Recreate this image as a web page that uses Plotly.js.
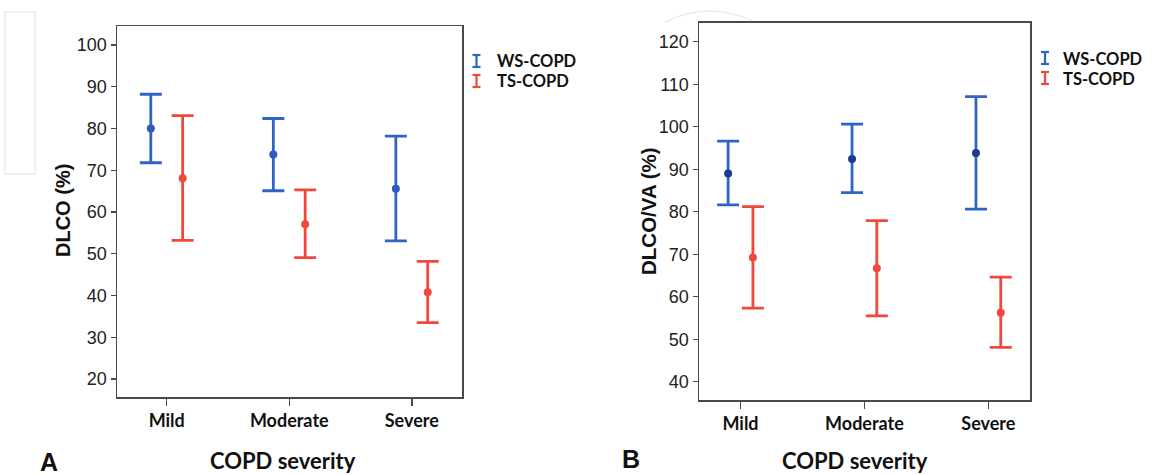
<!DOCTYPE html>
<html>
<head>
<meta charset="utf-8">
<script src="https://cdn.plot.ly/plotly-3.0.1.min.js"></script>
<style>
html,body{margin:0;padding:0;background:#fff;}
#chart{width:1159px;height:475px;}
</style>
</head>
<body>
<div id="chart"></div>
<script>
// ---- data ----
const categories = ["Mild", "Moderate", "Severe"];
const seriesNames = ["WS-COPD", "TS-COPD"];

// Panel A: DLCO (%)
const dlcoWsMean  = [80.0, 73.8, 65.6];
const dlcoWsUpper = [88.2, 82.4, 78.2];
const dlcoWsLower = [71.8, 65.1, 53.1];
const dlcoTsMean  = [68.1, 57.1, 40.8];
const dlcoTsUpper = [83.1, 65.3, 48.2];
const dlcoTsLower = [53.2, 49.1, 33.5];

// Panel B: DLCO/VA (%)
const dlcovaWsMean  = [89.0, 92.4, 93.8];
const dlcovaWsUpper = [96.6, 100.6, 107.1];
const dlcovaWsLower = [81.6, 84.5, 80.6];
const dlcovaTsMean  = [69.2, 66.7, 56.2];
const dlcovaTsUpper = [81.2, 77.9, 64.6];
const dlcovaTsLower = [57.3, 55.5, 48.1];

const yTicksA = [20, 30, 40, 50, 60, 70, 80, 90, 100];
const yTicksB = [40, 50, 60, 70, 80, 90, 100, 110, 120];

// ---- styling ----
const W = 1159, H = 475;
const px = x => x / W;
const py = y => 1 - y / H;
const BLUE = "#3063c6", BLUE_DOT_A = "#2d5bbd", BLUE_DOT_B = "#1c3c8e", RED = "#f0493b";
const AXC = "#4a4a4a";

function trace(name, mean, upper, lower, offset, color, dotColor, xa, ya) {
  return {
    type: "scatter", mode: "markers", name: name, showlegend: false,
    x: categories.map((c, i) => i + offset),
    y: mean,
    xaxis: xa, yaxis: ya,
    marker: {color: dotColor, size: 8},
    error_y: {
      type: "data", symmetric: false,
      array: upper.map((u, i) => u - mean[i]),
      arrayminus: lower.map((l, i) => mean[i] - l),
      color: color, thickness: 2.8, width: 11
    },
    hoverinfo: "x+y"
  };
}

const data = [
  trace(seriesNames[0], dlcoWsMean, dlcoWsUpper, dlcoWsLower, -0.13, BLUE, BLUE_DOT_A, "x", "y"),
  trace(seriesNames[1], dlcoTsMean, dlcoTsUpper, dlcoTsLower, 0.13, RED, RED, "x", "y"),
  trace(seriesNames[0], dlcovaWsMean, dlcovaWsUpper, dlcovaWsLower, -0.1, BLUE, BLUE_DOT_B, "x2", "y2"),
  trace(seriesNames[1], dlcovaTsMean, dlcovaTsUpper, dlcovaTsLower, 0.1, RED, RED, "x2", "y2")
];

function xAxis(domain, range, anchor) {
  return {
    domain: domain, range: range, anchor: anchor,
    tickvals: categories.map((c, i) => i), ticktext: categories,
    ticks: "outside", ticklen: 7, tickwidth: 1.5, tickcolor: AXC,
    tickfont: {family: "Lato, sans-serif", size: 18, weight: "bold", color: "#111"},
    showline: true, linecolor: AXC, linewidth: 1.5, mirror: true,
    showgrid: false, zeroline: false, fixedrange: true
  };
}
function yAxis(domain, range, ticks, anchor) {
  return {
    domain: domain, range: range, anchor: anchor,
    tickvals: ticks, ticks: "outside", ticklen: 5, tickwidth: 1.2, tickcolor: AXC,
    tickfont: {family: "Liberation Sans, Arial, sans-serif", size: 18, color: "#222"},
    showline: true, linecolor: AXC, linewidth: 1.5, mirror: true,
    showgrid: false, zeroline: false, fixedrange: true
  };
}

const annFont = (size, fam) => ({family: fam || "Lato, sans-serif", size: size, color: "#111", weight: "bold"});
function ann(text, x, y, size, fam, extra) {
  return Object.assign({
    text: text, x: px(x), y: py(y), xref: "paper", yref: "paper",
    showarrow: false, xanchor: "center", yanchor: "middle", font: annFont(size, fam)
  }, extra || {});
}

const annotations = [
  ann("DLCO (%)", 63, 211, 20, "Liberation Sans, Arial, sans-serif", {textangle: -90}),
  ann("DLCO/VA (%)", 648, 211, 20.5, "Liberation Sans, Arial, sans-serif", {textangle: -90}),
  ann("COPD severity", 283, 460, 22),
  ann("COPD severity", 855, 460, 22),
  ann("A", 48.5, 462, 25, "Liberation Sans, Arial, sans-serif"),
  ann("B", 630.5, 459, 25, "Liberation Sans, Arial, sans-serif"),
  ann(seriesNames[0], 495, 61, 16.5, null, {xanchor: "left"}),
  ann(seriesNames[1], 495, 81, 16.5, null, {xanchor: "left"}),
  ann(seriesNames[0], 1061, 59, 16.5, null, {xanchor: "left"}),
  ann(seriesNames[1], 1061, 79, 16.5, null, {xanchor: "left"})
];

function ibeam(cx, cy, color) {
  const h = 6, w = 4, lw = 2.2;
  const s = (x0, y0, x1, y1) => ({type: "line", xref: "paper", yref: "paper",
    x0: px(x0), y0: py(y0), x1: px(x1), y1: py(y1), line: {color: color, width: lw}});
  return [s(cx, cy - h, cx, cy + h), s(cx - w, cy - h, cx + w, cy - h), s(cx - w, cy + h, cx + w, cy + h)];
}
const wm = {color: "#ececec", width: 1.5};
const shapes = [].concat(
  ibeam(476.5, 61, BLUE), ibeam(476.5, 81, RED),
  ibeam(1045, 58, BLUE), ibeam(1045, 78, RED),
  [
    {type: "rect", xref: "paper", yref: "paper", x0: px(5), x1: px(35), y0: py(12), y1: py(174), line: wm, layer: "below"},
    {type: "path", xref: "paper", yref: "paper", path: "M " + px(665) + "," + py(22) + " Q " + px(710) + "," + py(0) + " " + px(755) + "," + py(22), line: wm, layer: "below"}
  ]
);

const layout = {
  width: W, height: H,
  margin: {l: 0, r: 0, t: 0, b: 0},
  paper_bgcolor: "#ffffff", plot_bgcolor: "#ffffff",
  showlegend: false,
  xaxis: xAxis([px(117), px(462)], [-0.406, 2.41], "y"),
  yaxis: yAxis([py(397), py(26)], [15.7, 104.55], yTicksA, "x"),
  xaxis2: xAxis([px(699), px(1030)], [-0.335, 2.336], "y2"),
  yaxis2: yAxis([py(400), py(22.7)], [35.7, 124.47], yTicksB, "x2"),
  annotations: annotations,
  shapes: shapes
};

Plotly.newPlot("chart", data, layout, {displayModeBar: false, staticPlot: true});
</script>
</body>
</html>
